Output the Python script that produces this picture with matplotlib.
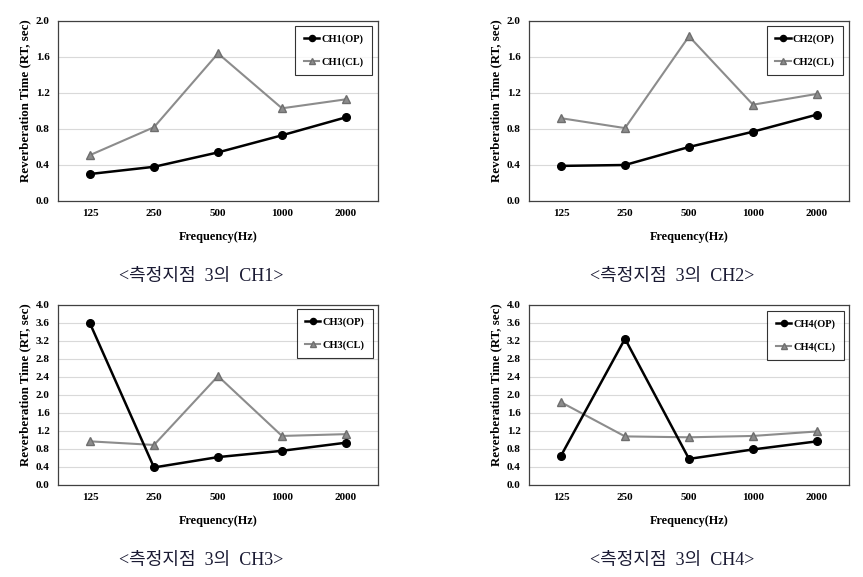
import matplotlib
matplotlib.use("Agg")
import matplotlib.pyplot as plt

plt.rcParams['font.family'] = ['Liberation Serif', 'Noto Sans CJK KR', 'DejaVu Sans']

freqs = ['125', '250', '500', '1000', '2000']

ch1_op = [0.30, 0.38, 0.54, 0.73, 0.93]
ch1_cl = [0.51, 0.82, 1.64, 1.03, 1.13]
ch2_op = [0.39, 0.40, 0.60, 0.77, 0.96]
ch2_cl = [0.92, 0.81, 1.83, 1.07, 1.19]
ch3_op = [3.59, 0.39, 0.62, 0.76, 0.94]
ch3_cl = [0.97, 0.89, 2.42, 1.09, 1.13]
ch4_op = [0.65, 3.25, 0.58, 0.79, 0.97]
ch4_cl = [1.84, 1.08, 1.06, 1.09, 1.19]

panels = [
    ('CH1', ch1_op, ch1_cl, 2.0),
    ('CH2', ch2_op, ch2_cl, 2.0),
    ('CH3', ch3_op, ch3_cl, 4.0),
    ('CH4', ch4_op, ch4_cl, 4.0),
]

W, H = 863, 577
fig = plt.figure(figsize=(W / 100, H / 100), dpi=100)

# axes boxes in pixels: left, top
boxes = [(58, 21), (529, 21), (58, 305), (529, 305)]
legend_anchor = [(0.981, 0.972), (0.981, 0.972), (0.984, 0.978), (0.984, 0.967)]
aw, ah = 320, 180

for (name, op, cl, ymax), (lx, ty), anchor in zip(panels, boxes, legend_anchor):
    ax = fig.add_axes([lx / W, 1 - (ty + ah) / H, aw / W, ah / H])
    x = range(len(freqs))
    ax.plot(x, cl, color='#8c8c8c', lw=1.5, marker='^', ms=6,
            mfc='#8c8c8c', mec='#6e6e6e', label=f'{name}(CL)', zorder=3)
    ax.plot(x, op, color='black', lw=1.8, marker='o', ms=5.5,
            mfc='black', mec='black', label=f'{name}(OP)', zorder=4)
    ax.set_xlim(-0.5, 4.5)
    ax.set_ylim(0, ymax)
    step = 0.4
    ticks = [i * step for i in range(int(round(ymax / step)) + 1)]
    ax.set_yticks(ticks)
    ax.set_yticklabels([f'{t:.1f}' for t in ticks])
    ax.set_xticks(list(x))
    ax.set_xticklabels(freqs)
    ax.tick_params(length=0, labelsize=8, pad=6)
    for lab in ax.get_xticklabels() + ax.get_yticklabels():
        lab.set_fontweight('bold')
    ax.yaxis.grid(True, color='#d9d9d9', lw=0.8)
    ax.set_axisbelow(True)
    for sp in ax.spines.values():
        sp.set_color('#404040')
        sp.set_linewidth(0.9)
    ax.set_xlabel('Frequency(Hz)', fontsize=8.8, fontweight='bold', labelpad=9)
    ax.set_ylabel('Reverberation Time (RT, sec)', fontsize=9.3, fontweight='bold')
    ax.yaxis.set_label_coords(-0.085, 0.555)
    handles, labels = ax.get_legend_handles_labels()
    leg = ax.legend(handles[::-1], labels[::-1], loc='upper right', bbox_to_anchor=anchor,
                    borderaxespad=0, fancybox=False, edgecolor='black',
                    prop={'size': 7.5, 'weight': 'bold'}, labelspacing=1.3,
                    handlelength=1.5, handletextpad=0.2, markerscale=0.8,
                    borderpad=0.8)
    leg.get_frame().set_linewidth(0.8)
    fig.text((lx + aw / 2 - 17) / W, 1 - (ty + 256) / H, f'<측정지점  3의  {name}>',
             ha='center', va='center', fontsize=13, color='#1a1a33')

fig.savefig('out.png', dpi=100)
